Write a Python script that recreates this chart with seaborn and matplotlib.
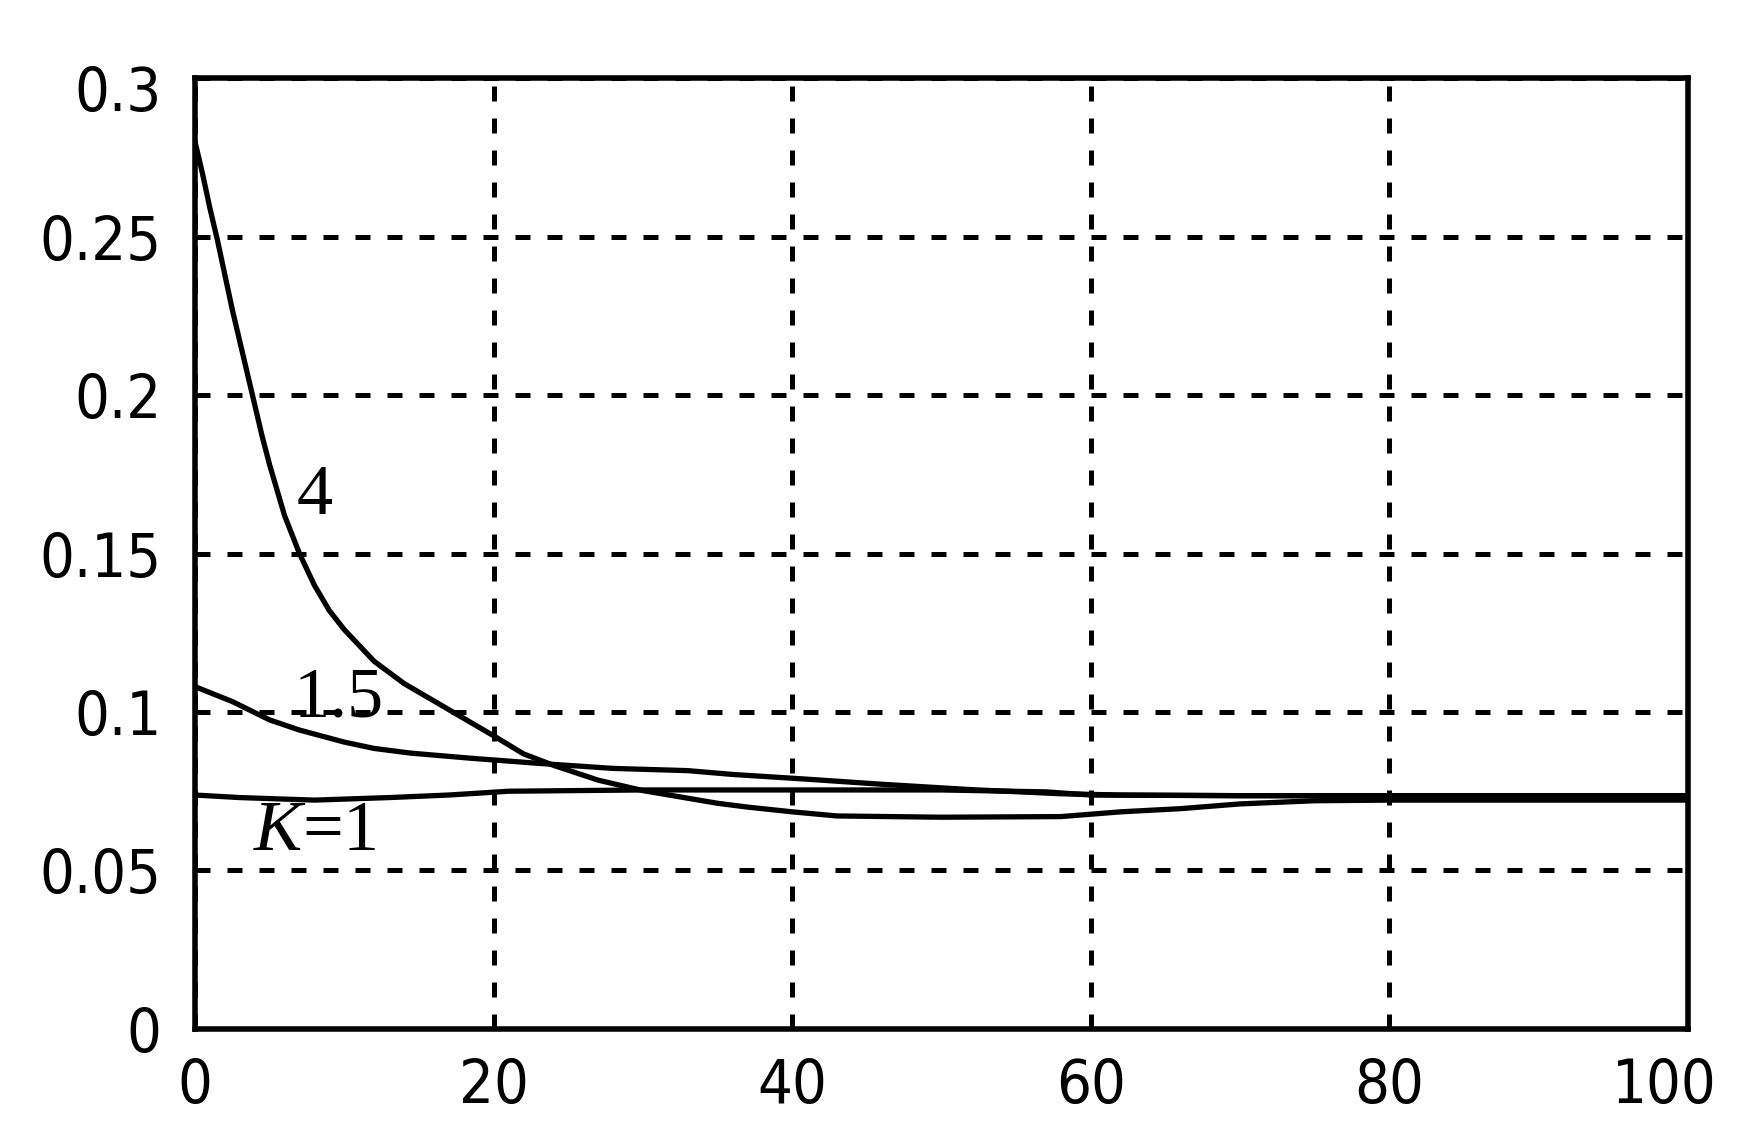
import matplotlib
matplotlib.use("Agg")
import matplotlib.pyplot as plt
import matplotlib.transforms as mtransforms
from matplotlib import font_manager
import seaborn as sns
import pandas as pd

# ---- data ----
t_k4 = [0, 0.5, 1, 1.5, 2, 2.5, 3, 3.5, 4, 4.5, 5, 6, 7, 8, 9, 10, 12, 14, 16, 18,
        20, 22, 24, 27, 30, 33, 35, 37, 40, 43, 50, 58, 62, 66, 70, 75, 80, 90, 100]
v_k4 = [0.280, 0.270, 0.259, 0.249, 0.238, 0.227, 0.217, 0.207, 0.197, 0.187, 0.178,
        0.162, 0.150, 0.140, 0.132, 0.126, 0.116, 0.109, 0.1035, 0.098, 0.0925, 0.0868,
        0.0832, 0.0785, 0.0752, 0.0728, 0.0712, 0.0700, 0.0685, 0.0672, 0.0668, 0.0670,
        0.0685, 0.0695, 0.0710, 0.0720, 0.0722, 0.0722, 0.0722]

t_k15 = [0, 2.5, 5, 7, 10, 12, 14.5, 18.5, 23, 28, 33, 36, 41, 46, 52, 58, 62, 70, 80, 100]
v_k15 = [0.108, 0.1033, 0.0975, 0.0943, 0.0905, 0.0885, 0.0870, 0.0854, 0.0838, 0.0822,
         0.0815, 0.0803, 0.0788, 0.0772, 0.0755, 0.0742, 0.0738, 0.0736, 0.0736, 0.0736]

t_k1 = [0, 3, 8, 13, 17, 21, 30, 40, 50, 57, 60, 70, 80, 100]
v_k1 = [0.0738, 0.0730, 0.0722, 0.0730, 0.0738, 0.0750, 0.0754, 0.0754, 0.0754, 0.0748,
        0.0738, 0.0736, 0.0736, 0.0736]

x_ticks = [0, 20, 40, 60, 80, 100]
y_ticks = [0, 0.05, 0.1, 0.15, 0.2, 0.25, 0.3]
y_tick_labels = ["0", "0.05", "0.1", "0.15", "0.2", "0.25", "0.3"]

curve_labels = ["4", "1.5", "$K$=1"]
label_pos_t = [8.0, 9.6, 8.0]
label_pos_v = [0.168, 0.104, 0.062]

df = pd.concat([
    pd.DataFrame({"t": t_k4, "v": v_k4, "K": "4"}),
    pd.DataFrame({"t": t_k15, "v": v_k15, "K": "1.5"}),
    pd.DataFrame({"t": t_k1, "v": v_k1, "K": "1"}),
], ignore_index=True)

# ---- style ----
sns.set_style("white")
plt.rcParams["mathtext.fontset"] = "custom"
plt.rcParams["mathtext.rm"] = "Liberation Serif"
plt.rcParams["mathtext.it"] = "Liberation Serif:italic"

# pick a narrow sans face for tick labels if one is available
fonts = font_manager.fontManager.ttflist
tick_family, tick_stretch, tick_size = "Liberation Sans", "normal", 42
if any(f.name == "Liberation Sans Narrow" for f in fonts):
    tick_family, tick_stretch, tick_size = "Liberation Sans Narrow", "normal", 47
elif any(f.name == "DejaVu Sans" and f.stretch in ("condensed", "semi-condensed")
         for f in fonts):
    tick_family, tick_stretch, tick_size = "DejaVu Sans", "condensed", 44
plt.rcParams["font.family"] = [tick_family, "DejaVu Sans"]

fig = plt.figure(figsize=(17.39, 11.48), dpi=100)
ax = fig.add_axes([0.1121, 0.1037, 0.9707 - 0.1121, 0.932 - 0.1037])

sns.lineplot(data=df, x="t", y="v", hue="K", sort=False, estimator=None,
             palette={"4": "black", "1.5": "black", "1": "black"},
             linewidth=3.8, legend=False, ax=ax, zorder=3)

ax.set_xlim(0, 100)
ax.set_ylim(0, 0.3)
ax.set_xticks(x_ticks)
ax.set_xticklabels([str(x) for x in x_ticks])
ax.set_yticks(y_ticks)
ax.set_yticklabels(y_tick_labels)
ax.set_xlabel("")
ax.set_ylabel("")

ax.grid(True, color="black", linestyle=(0, (3, 3.4)), linewidth=3.6)
ax.set_axisbelow(True)
for s in ax.spines.values():
    s.set_color("black")
    s.set_linewidth(4.0)
    s.set_zorder(4)

ax.tick_params(axis="both", length=0, labelsize=tick_size, colors="black")
ax.tick_params(axis="x", pad=20)
ax.tick_params(axis="y", pad=24)
for lab in ax.get_xticklabels() + ax.get_yticklabels():
    lab.set_fontstretch(tick_stretch)
    lab.set_family([tick_family, "DejaVu Sans"])

# small label nudges as in the reference (last x label left, top y label down)
xl = ax.get_xticklabels()[-1]
xl.set_transform(xl.get_transform() + mtransforms.ScaledTranslation(-24 / 100, 0, fig.dpi_scale_trans))
yl = ax.get_yticklabels()[-1]
yl.set_transform(yl.get_transform() + mtransforms.ScaledTranslation(0, -10 / 100, fig.dpi_scale_trans))

for lab, tt, vv in zip(curve_labels, label_pos_t, label_pos_v):
    ax.text(tt, vv, lab, fontsize=52, family="Liberation Serif",
            ha="center", va="center", color="black", zorder=5)

fig.savefig("out.png", dpi=100, facecolor="white")
